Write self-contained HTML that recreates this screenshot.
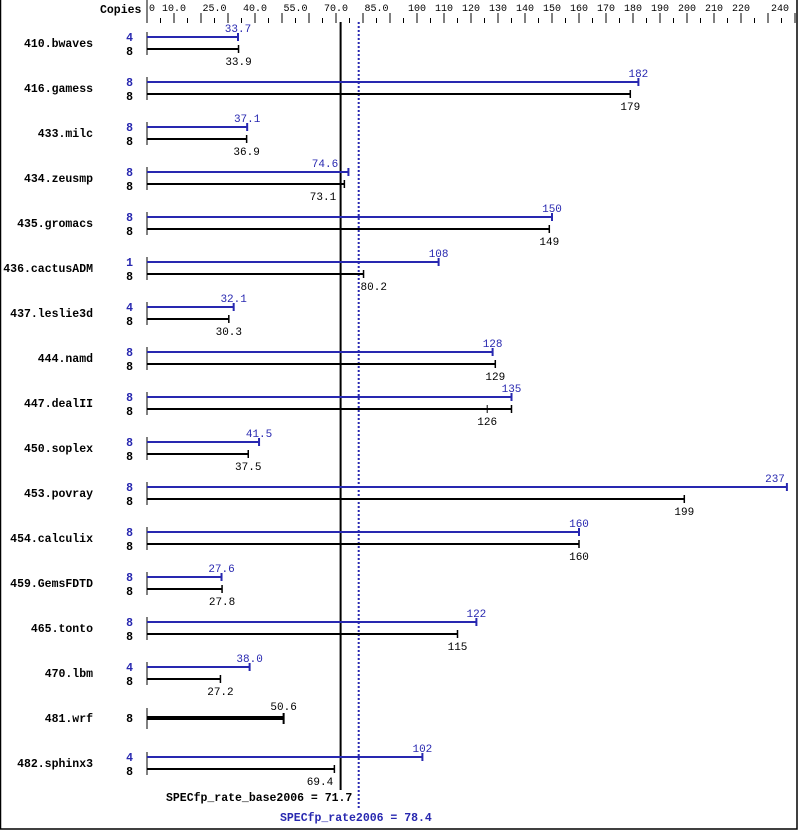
<!DOCTYPE html>
<html><head><style>
html,body{margin:0;padding:0;background:#fff;}
svg{display:block;}
text{font-family:"Liberation Mono",monospace;}
.ax{font-size:10px;fill:#000;}
.nm{font-size:11.5px;font-weight:bold;fill:#000;}
.cp{font-size:11.5px;font-weight:bold;}
.v{font-size:11px;}
</style></head><body>
<svg width="799" height="831" xmlns="http://www.w3.org/2000/svg">
<rect x="0.5" y="-1" width="796.5" height="830" fill="none" stroke="#000" stroke-width="1.5"/>
<text x="100" y="13" class="nm">Copies</text>
<line x1="147" y1="0" x2="147" y2="23" stroke="#000" stroke-width="1"/>
<g id="ticks" stroke="#000" stroke-width="1"></g>
<g id="axl"></g>
<line x1="340.6" y1="22" x2="340.6" y2="790" stroke="#000" stroke-width="2"/>
<line x1="358.7" y1="22" x2="358.7" y2="808" stroke="#2828b0" stroke-width="2" stroke-dasharray="2,2"/>
<g id="rows"></g>
<text x="166" y="801" class="nm">SPECfp_rate_base2006 = 71.7</text>
<text x="280" y="821" class="nm" style="fill:#2828b0">SPECfp_rate2006 = 78.4</text>
</svg>
<script>
var NS="http://www.w3.org/2000/svg";
function X(v){return 147+v*2.7;}
function el(t,a,p,txt){var e=document.createElementNS(NS,t);for(var k in a)e.setAttribute(k,a[k]);if(txt!==undefined)e.textContent=txt;p.appendChild(e);return e;}
var tk=document.getElementById('ticks'),al=document.getElementById('axl'),rw=document.getElementById('rows');
for(var v=5;v<=240;v+=5){var x=X(v);var big=(v%10==0);el('line',{x1:x,y1:big?13:18,x2:x,y2:23},tk);}
var labs=[[10,"10.0"],[25,"25.0"],[40,"40.0"],[55,"55.0"],[70,"70.0"],[85,"85.0"],[100,"100"],[110,"110"],[120,"120"],[130,"130"],[140,"140"],[150,"150"],[160,"160"],[170,"170"],[180,"180"],[190,"190"],[200,"200"],[210,"210"],[220,"220"]];
el('text',{x:149,y:11,'class':'ax'},al,"0");
labs.forEach(function(l){el('text',{x:X(l[0]),y:11,'class':'ax','text-anchor':'middle'},al,l[1]);});
el('text',{x:789,y:11,'class':'ax','text-anchor':'end'},al,"240");
var B="#2828b0";
var d=[
["410.bwaves",33.7,"33.7",4,33.9,"33.9",8],
["416.gamess",182,"182",8,179,"179",8],
["433.milc",37.1,"37.1",8,36.9,"36.9",8],
["434.zeusmp",74.6,"74.6",8,73.1,"73.1",8],
["435.gromacs",150,"150",8,149,"149",8],
["436.cactusADM",108,"108",1,80.2,"80.2",8],
["437.leslie3d",32.1,"32.1",4,30.3,"30.3",8],
["444.namd",128,"128",8,129,"129",8],
["447.dealII",135,"135",8,135,"126",8],
["450.soplex",41.5,"41.5",8,37.5,"37.5",8],
["453.povray",237,"237",8,199,"199",8],
["454.calculix",160,"160",8,160,"160",8],
["459.GemsFDTD",27.6,"27.6",8,27.8,"27.8",8],
["465.tonto",122,"122",8,115,"115",8],
["470.lbm",38.0,"38.0",4,27.2,"27.2",8],
["481.wrf",null,"",0,50.6,"50.6",8],
["482.sphinx3",102,"102",4,69.4,"69.4",8]];
d.forEach(function(r,i){
 var py=37+45*i,by=49+45*i,my=43+45*i;
 el('text',{x:93,y:my+4,'class':'nm','text-anchor':'end'},rw,r[0]);
 if(r[1]===null){
  el('line',{x1:147,y1:my-10,x2:147,y2:my+11,stroke:'#000','stroke-width':1},rw);
  el('text',{x:133,y:my+4,'class':'cp','text-anchor':'end'},rw,"8");
  var xe=X(50.6);
  el('line',{x1:147,y1:my,x2:xe,y2:my,stroke:'#000','stroke-width':4},rw);
  el('line',{x1:xe,y1:my-5,x2:xe,y2:my+6,stroke:'#000','stroke-width':2},rw);
  el('text',{x:xe,y:my-8,'class':'v','text-anchor':'middle',fill:'#000'},rw,"50.6");
  return;
 }
 el('line',{x1:147,y1:py-5,x2:147,y2:by+6,stroke:'#000','stroke-width':1},rw);
 el('text',{x:133,y:py+4,'class':'cp','text-anchor':'end',fill:B},rw,String(r[3]));
 el('text',{x:133,y:by+6,'class':'cp','text-anchor':'end',fill:'#000'},rw,String(r[6]));
 var xp=X(r[1]),xb=X(r[4]);
 el('line',{x1:147,y1:py,x2:xp,y2:py,stroke:B,'stroke-width':2},rw);
 el('line',{x1:xp,y1:py-4,x2:xp,y2:py+4,stroke:B,'stroke-width':2},rw);
 el('line',{x1:147,y1:by,x2:xb,y2:by,stroke:'#000','stroke-width':2},rw);
 el('line',{x1:xb,y1:by-4,x2:xb,y2:by+4,stroke:'#000','stroke-width':1.5},rw);
 if(r[5]=="126")el('line',{x1:X(126),y1:by-4,x2:X(126),y2:by+4,stroke:'#000','stroke-width':1},rw);
 var lx=xp; if(lx>775)lx=775;
 if(r[2]=="74.6")lx=325;
 el('text',{x:lx,y:py-5,'class':'v','text-anchor':'middle',fill:B},rw,r[2]);
 var bx=(r[5]=="126")?X(126):xb; var anc='middle';
 if(r[5]=="80.2"){bx=xb-3;anc='start';}
 if(r[5]=="73.1")bx=323;
 if(r[5]=="69.4")bx=320;
 el('text',{x:bx,y:by+16,'class':'v','text-anchor':anc,fill:'#000'},rw,r[5]);
});
</script>
</body></html>
